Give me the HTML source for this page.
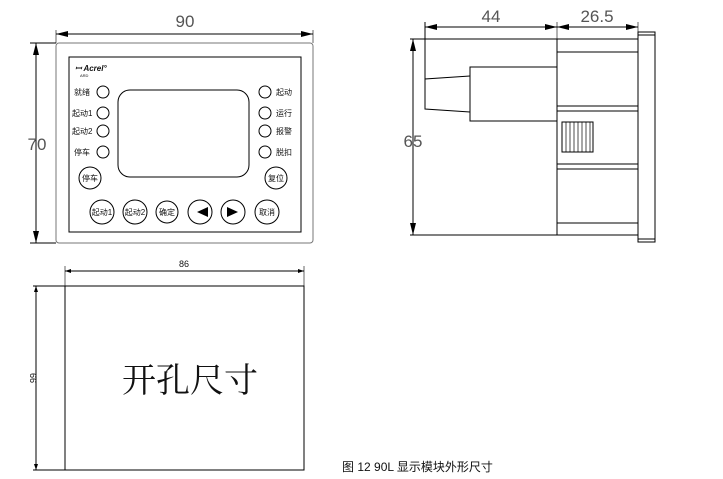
<!DOCTYPE html>
<html><head><meta charset="utf-8"><style>
html,body{margin:0;padding:0;background:#fff;width:723px;height:479px;overflow:hidden}
svg{display:block}
text{font-family:"Liberation Sans","Noto Sans CJK SC",sans-serif;fill:#111}
</style></head><body>
<svg width="723" height="479" viewBox="0 0 723 479" xmlns="http://www.w3.org/2000/svg">
<defs>
<marker id="a" markerWidth="12" markerHeight="6" refX="12" refY="3" orient="auto-start-reverse" markerUnits="userSpaceOnUse"><path d="M0,0 L12,3 L0,6z" fill="#000"/></marker>
<marker id="s" markerWidth="6" markerHeight="4" refX="6" refY="2" orient="auto-start-reverse" markerUnits="userSpaceOnUse"><path d="M0,0 L6,2 L0,4z" fill="#000"/></marker>
</defs>
<g stroke="#000" fill="none" stroke-width="1">
<!-- front view -->
<line x1="56" y1="30" x2="56" y2="43" stroke="#666"/>
<line x1="313" y1="30" x2="313" y2="43" stroke="#666"/>
<line x1="56" y1="34" x2="313" y2="34" marker-start="url(#a)" marker-end="url(#a)"/>
<line x1="30" y1="43" x2="56" y2="43"/>
<line x1="30" y1="243" x2="56" y2="243"/>
<line x1="36" y1="43" x2="36" y2="243" marker-start="url(#a)" marker-end="url(#a)"/>
<rect x="56" y="43" width="257" height="200" rx="3" stroke="#777"/>
<rect x="69" y="57" width="232" height="175"/>
<rect x="118" y="90" width="131" height="87" rx="12"/>
<circle cx="103" cy="92" r="6"/><circle cx="103" cy="113" r="6"/><circle cx="103" cy="131" r="6"/><circle cx="103" cy="152" r="6"/>
<circle cx="265" cy="92" r="6"/><circle cx="265" cy="113" r="6"/><circle cx="265" cy="131" r="6"/><circle cx="265" cy="152" r="6"/>
<circle cx="90" cy="178" r="11"/><circle cx="276" cy="178" r="11"/>
<circle cx="102" cy="212" r="12"/><circle cx="135" cy="212" r="12"/><circle cx="167" cy="212" r="11"/><circle cx="200" cy="212" r="12"/><circle cx="233" cy="212" r="12"/><circle cx="267" cy="212" r="12"/>
<!-- side view -->
<line x1="425" y1="22" x2="425" y2="109"/>
<line x1="557" y1="22" x2="557" y2="39" stroke="#666"/>
<line x1="638" y1="22" x2="638" y2="32" stroke="#666"/>
<line x1="425" y1="27" x2="557" y2="27" marker-start="url(#a)" marker-end="url(#a)"/>
<line x1="557" y1="27" x2="638" y2="27" marker-start="url(#a)" marker-end="url(#a)"/>
<line x1="410" y1="39" x2="557" y2="39"/>
<line x1="410" y1="235" x2="557" y2="235"/>
<line x1="413" y1="39" x2="413" y2="235" marker-start="url(#a)" marker-end="url(#a)"/>
<rect x="557" y="39" width="81" height="196"/>
<line x1="557" y1="52" x2="638" y2="52"/><line x1="557" y1="106" x2="638" y2="106"/><line x1="557" y1="111" x2="638" y2="111"/>
<line x1="557" y1="164" x2="638" y2="164"/><line x1="557" y1="169" x2="638" y2="169"/><line x1="557" y1="223" x2="638" y2="223"/>
<rect x="638" y="32" width="17" height="210"/>
<line x1="638" y1="35" x2="655" y2="35"/><line x1="638" y1="239" x2="655" y2="239"/>
<rect x="470" y="67" width="87" height="54"/>
<polyline points="470,76 425,79 425,109 470,112"/>
<rect x="562" y="122" width="31" height="30"/>
<g stroke-width="0.7"><line x1="566" y1="122" x2="566" y2="152"/><line x1="570" y1="122" x2="570" y2="152"/><line x1="574" y1="122" x2="574" y2="152"/><line x1="578" y1="122" x2="578" y2="152"/><line x1="582" y1="122" x2="582" y2="152"/><line x1="586" y1="122" x2="586" y2="152"/><line x1="590" y1="122" x2="590" y2="152"/></g>
<!-- cutout -->
<line x1="65" y1="266" x2="65" y2="286" stroke="#666"/>
<line x1="304" y1="266" x2="304" y2="286" stroke="#666"/>
<line x1="65" y1="271" x2="304" y2="271" marker-start="url(#s)" marker-end="url(#s)"/>
<line x1="33" y1="286" x2="65" y2="286"/>
<line x1="33" y1="470" x2="65" y2="470"/>
<line x1="36" y1="286" x2="36" y2="470" marker-start="url(#s)" marker-end="url(#s)"/>
<rect x="65" y="286" width="239" height="184"/>
</g>
<g fill="#000" stroke="none">
<polygon points="197,212 208,207 208,217"/><polygon points="238,212 227,207 227,217"/>
</g>
<g font-size="17" fill="#555"><text x="185" y="27" text-anchor="middle" style="fill:#555">90</text>
<text x="37" y="150" text-anchor="middle" style="fill:#555">70</text>
<text x="491" y="22" text-anchor="middle" style="fill:#555">44</text>
<text x="597" y="22" text-anchor="middle" style="fill:#555">26.5</text>
<text x="413" y="147" text-anchor="middle" style="fill:#555">65</text></g>
<text x="75" y="71" font-size="8" font-weight="bold" font-style="italic">ꟷ Acrel°</text>
<text x="80" y="77" font-size="4">ARD</text>
<g font-size="8">
<text x="74" y="95">就绪</text><text x="72" y="116">起动1</text><text x="72" y="134">起动2</text><text x="74" y="155">停车</text>
<text x="276" y="95">起动</text><text x="276" y="116">运行</text><text x="276" y="134">报警</text><text x="276" y="155">脱扣</text>
<text x="90" y="181" text-anchor="middle">停车</text><text x="276" y="181" text-anchor="middle">复位</text>
<text x="102" y="215" text-anchor="middle">起动1</text><text x="135" y="215" text-anchor="middle">起动2</text><text x="167" y="215" text-anchor="middle">确定</text><text x="267" y="215" text-anchor="middle">取消</text>
</g>
<text x="184" y="267" font-size="9" text-anchor="middle">86</text>
<text x="0" y="0" font-size="9" text-anchor="middle" transform="translate(30,378) rotate(90)">66</text>
<text x="190" y="392" font-size="34" text-anchor="middle" style="font-family:'Noto Serif CJK SC',serif">开孔尺寸</text>
<text x="342" y="471" font-size="12">图 12 90L 显示模块外形尺寸</text>
</svg>
</body></html>
